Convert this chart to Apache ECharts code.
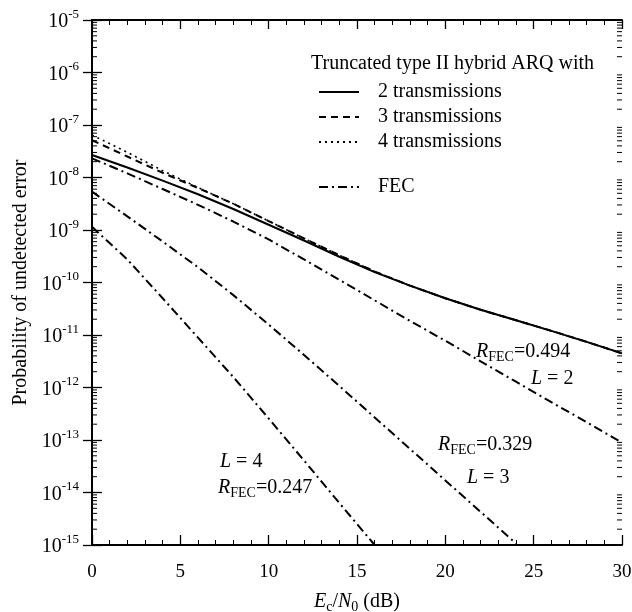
<!DOCTYPE html>
<html><head><meta charset="utf-8">
<script src="https://cdn.jsdelivr.net/npm/echarts@6/dist/echarts.min.js"></script>
<style>html,body{margin:0;padding:0;background:#fff}#c{width:632px;height:612px}</style>
</head><body><div id="c"></div>
<script>
const FONT = '"Liberation Serif","Times New Roman",serif';

// Ec/N0 (dB) sample points
const snr = [0,2,4,6,8,10,12,14,16,18,20,22,24,26,28,30];
// Truncated type II hybrid ARQ
const arq2 = [2.69e-8,1.55e-8,8.71e-9,4.79e-9,2.51e-9,1.26e-9,6.31e-10,3.09e-10,1.58e-10,8.71e-11,5.01e-11,3.02e-11,1.91e-11,1.20e-11,7.41e-12,4.47e-12];
const arq3 = [5.13e-8,2.51e-8,1.23e-8,6.31e-9,3.16e-9,1.48e-9,6.92e-10,3.31e-10,1.62e-10,8.71e-11,5.01e-11,3.02e-11,1.91e-11,1.20e-11,7.41e-12,4.47e-12];
const arq4 = [6.46e-8,3.02e-8,1.35e-8,6.46e-9,3.16e-9,1.48e-9,6.92e-10,3.31e-10,1.62e-10,8.71e-11,5.01e-11,3.02e-11,1.91e-11,1.20e-11,7.41e-12,4.47e-12];
// FEC
const fecL2 = [2.32e-8,1.20e-8,6.03e-9,3.02e-9,1.45e-9,6.61e-10,2.75e-10,1.12e-10,4.57e-11,1.86e-11,7.76e-12,3.16e-12,1.29e-12,5.25e-13,2.19e-13,8.91e-14];
const snrL3 = [0,2,4,6,8,10,12,14,16,18,20,22,24];
const fecL3 = [5.37e-9,1.82e-9,6.03e-10,1.95e-10,5.75e-11,1.58e-11,4.17e-12,1.07e-12,2.69e-13,6.76e-14,1.70e-14,4.27e-15,1.07e-15];
const snrL4 = [0,2,4,6,8,10,12,14,16];
const fecL4 = [1.15e-9,2.75e-10,5.01e-11,8.91e-12,1.58e-12,2.57e-13,4.07e-14,6.31e-15,1.0e-15];

const xTickLabels = ['0','5','10','15','20','25','30'];
const yMin = 1e-15, yMax = 1e-5;

const pair = (xs, ys) => xs.map((x, i) => [x, ys[i]]);

// log-axis minor tick positions (2..9 within each decade)
const logMinorTicks = [];
for (let d = -15; d < -5; d++) for (let k = 2; k <= 9; k++) logMinorTicks.push([0, k * Math.pow(10, d)]);

const chart = echarts.init(document.getElementById('c'), null, {renderer: 'canvas'});
const txt = {fontFamily: FONT, color: '#000'};
const lineBase = (name, data, type, width) => ({
  type: 'line', name, data, symbol: 'none', showSymbol: false, smooth: false,
  color: '#000', itemStyle: {color: '#000'},
  lineStyle: {color: '#000', width, type}, emphasis: {disabled: true}, z: 3
});
const rich = {
  i: {fontFamily: FONT, fontSize: 20, fontStyle: 'italic', color: '#000'},
  n: {fontFamily: FONT, fontSize: 20, color: '#000'},
  s: {fontFamily: FONT, fontSize: 14, color: '#000', verticalAlign: 'bottom', padding: [10, 0, 0, 0]}
};
const axisLineStyle = {show: true, lineStyle: {color: '#000', width: 2}};
const legendCommon = {
  orient: 'vertical', left: 313, itemWidth: 40, itemHeight: 14, itemGap: 5,
  selectedMode: false, itemStyle: {opacity: 0, borderWidth: 0},
  textStyle: {...txt, fontSize: 20, padding: [0, 0, 0, 14]}
};

chart.setOption({
  animation: false,
  grid: {left: 92, right: 10, top: 20, bottom: 67, containLabel: false, outerBoundsMode: 'none'},
  xAxis: [{
    type: 'value', position: 'bottom', min: 0, max: 30, interval: 5,
    axisLine: axisLineStyle,
    axisTick: {inside: true, length: 10, lineStyle: {color: '#000', width: 1.3}},
    minorTick: {show: true, splitNumber: 5, length: 5, lineStyle: {color: '#000', width: 1}},
    splitLine: {show: false},
    axisLabel: {...txt, fontSize: 19, margin: 18, formatter: v => xTickLabels[Math.round(v / 5)]},
    name: '{i|E}{s|c}{n|/}{i|N}{s|0}{n| (dB)}', nameLocation: 'middle', nameGap: 45,
    nameTextStyle: {rich}
  }, {
    type: 'value', position: 'top', min: 0, max: 30, interval: 5,
    axisLine: axisLineStyle,
    axisTick: {inside: true, length: 9, lineStyle: {color: '#000', width: 1.3}},
    minorTick: {show: true, splitNumber: 5, length: 5, lineStyle: {color: '#000', width: 1}},
    splitLine: {show: false}, axisLabel: {show: false}
  }],
  yAxis: [{
    type: 'log', logBase: 10, min: yMin, max: yMax, interval: 1, position: 'left',
    axisLine: axisLineStyle,
    axisTick: {inside: true, length: 10, lineStyle: {color: '#000', width: 1.3}},
    splitLine: {show: false},
    axisLabel: {
      margin: 13,
      formatter: v => '{b|10}{e|' + Math.round(Math.log10(v)) + '}',
      rich: {
        b: {fontFamily: FONT, fontSize: 20, color: '#000', padding: [4, 0, 0, 0]},
        e: {fontFamily: FONT, fontSize: 13, color: '#000', verticalAlign: 'top'}
      }
    },
    name: 'Probability of undetected error', nameLocation: 'middle', nameRotate: 90, nameGap: 58,
    nameTextStyle: {...txt, fontSize: 20}
  }, {
    type: 'log', logBase: 10, min: yMin, max: yMax, interval: 1, position: 'right',
    axisLine: axisLineStyle,
    axisTick: {inside: true, length: 9, lineStyle: {color: '#000', width: 1.3}},
    splitLine: {show: false}, axisLabel: {show: false}
  }],
  legend: [
    {...legendCommon, data: ['2 transmissions', '3 transmissions', '4 transmissions'], top: 77},
    {...legendCommon, data: ['FEC'], top: 172}
  ],
  graphic: [
    {type: 'text', left: 311, top: 54, style: {text: 'Truncated type II hybrid ARQ with', font: '20px ' + FONT, fill: '#000'}},
    {type: 'text', left: 476, top: 342, style: {text: '{i|R}{s|FEC}{n|=0.494}', rich}},
    {type: 'text', left: 531, top: 369, style: {text: '{i|L}{n| = 2}', rich}},
    {type: 'text', left: 438, top: 435, style: {text: '{i|R}{s|FEC}{n|=0.329}', rich}},
    {type: 'text', left: 467, top: 468, style: {text: '{i|L}{n| = 3}', rich}},
    {type: 'text', left: 220, top: 452, style: {text: '{i|L}{n| = 4}', rich}},
    {type: 'text', left: 218, top: 478, style: {text: '{i|R}{s|FEC}{n|=0.247}', rich}}
  ],
  series: [
    lineBase('2 transmissions', pair(snr, arq2), 'solid', 2),
    lineBase('3 transmissions', pair(snr, arq3), [7, 5], 2),
    lineBase('4 transmissions', pair(snr, arq4), [2, 4], 1.6),
    lineBase('FEC', pair(snr, fecL2), [9, 4, 2, 4], 2),
    lineBase('FEC', pair(snrL3, fecL3), [9, 4, 2, 4], 2),
    lineBase('FEC', pair(snrL4, fecL4), [9, 4, 2, 4], 2),
    {
      type: 'custom', name: 'minorTicks', data: logMinorTicks, silent: true, z: 4,
      renderItem: (params, api) => {
        const p0 = api.coord([0, api.value(1)]);
        const p1 = api.coord([30, api.value(1)]);
        const st = {stroke: '#000', lineWidth: 1};
        return {type: 'group', children: [
          {type: 'line', shape: {x1: p0[0], y1: p0[1], x2: p0[0] + 5, y2: p0[1]}, style: st},
          {type: 'line', shape: {x1: p1[0], y1: p1[1], x2: p1[0] - 5, y2: p1[1]}, style: st}
        ]};
      }
    }
  ]
});
</script></body></html>
